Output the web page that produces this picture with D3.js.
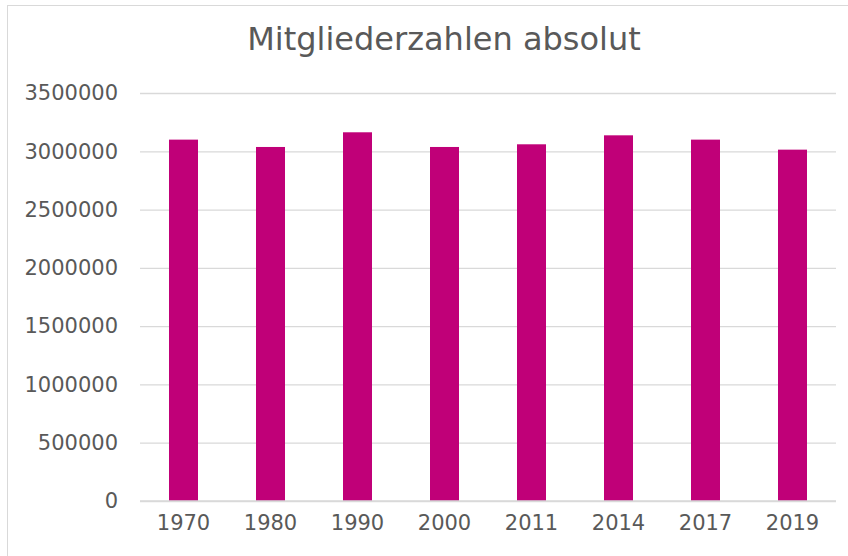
<!DOCTYPE html>
<html>
<head>
<meta charset="utf-8">
<style>
  body { margin: 0; background: #fff; }
  svg { display: block; }
  text { font-family: "DejaVu Sans", Verdana, sans-serif; fill: #595959; }
</style>
</head>
<body>
<script src="https://d3js.org/d3.v7.min.js"></script>
<svg width="848" height="556"></svg>
<script>
const years = ["1970", "1980", "1990", "2000", "2011", "2014", "2017", "2019"];
const members = [3100000, 3037000, 3163000, 3037000, 3060000, 3137000, 3100000, 3014000];
const yTicks = [0, 500000, 1000000, 1500000, 2000000, 2500000, 3000000, 3500000];
const title = "Mitgliederzahlen absolut";

const svg = d3.select("svg");
const plotLeft = 140, plotRight = 836, plotTop = 93, plotBottom = 501;

// chart frame (right/bottom edge run off the picture)
svg.append("rect")
    .attr("x", 7.5).attr("y", 5.5)
    .attr("width", 900).attr("height", 600)
    .style("fill", "white")
    .style("stroke", "#d9d9d9")
    .style("stroke-width", 1);

const x = d3.scaleBand().domain(years).range([plotLeft, plotRight])
    .paddingInner(2 / 3).paddingOuter(1 / 3);
const y = d3.scaleLinear().domain([0, 3500000]).range([plotBottom, plotTop]);

// gridlines + y labels
const yAxis = d3.axisLeft(y)
    .tickValues(yTicks)
    .tickSize(-(plotRight - plotLeft))
    .tickPadding(22)
    .tickFormat(d3.format("d"));
const gy = svg.append("g")
    .attr("transform", `translate(${plotLeft},0)`)
    .call(yAxis);
gy.select(".domain").remove();
gy.selectAll("line").style("stroke", "#d9d9d9").style("stroke-width", 1.3);
gy.selectAll("text").style("font-size", "21px").style("fill", "#595959");

// x labels
const xAxis = d3.axisBottom(x).tickSize(0).tickPadding(14);
const gx = svg.append("g")
    .attr("transform", `translate(0,${plotBottom})`)
    .call(xAxis);
gx.select(".domain").remove();
gx.selectAll("text").style("font-size", "21px").style("fill", "#595959");

// bars
svg.append("g").selectAll("rect")
    .data(years)
    .enter()
    .append("rect")
    .attr("x", d => x(d))
    .attr("width", x.bandwidth())
    .attr("y", (d, i) => y(members[i]))
    .attr("height", (d, i) => y(0) - y(members[i]))
    .style("fill", "#c00078");

// axis line over the bars
svg.append("line")
    .attr("x1", plotLeft).attr("x2", plotRight)
    .attr("y1", y(0)).attr("y2", y(0))
    .style("stroke", "#d9d9d9").style("stroke-width", 1.3);

svg.append("text")
    .attr("x", 444).attr("y", 50)
    .attr("text-anchor", "middle")
    .style("font-size", "32px")
    .style("fill", "#595959")
    .text(title);
</script>
</body>
</html>
